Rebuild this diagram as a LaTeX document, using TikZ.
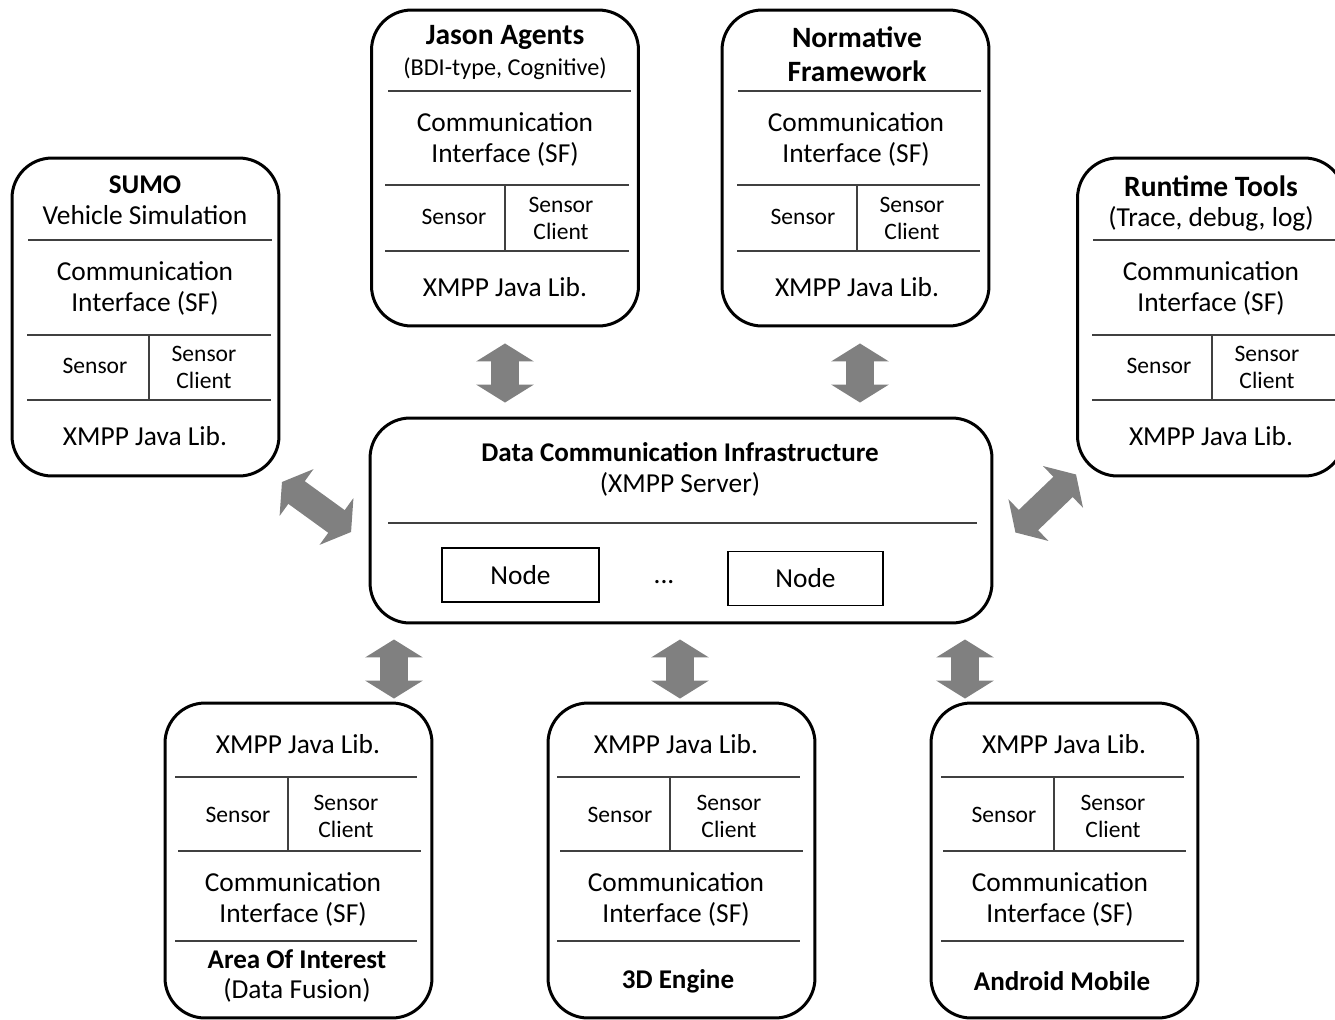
\documentclass[tikz,border=0pt]{standalone}
\usepackage{fontspec}
\setmainfont{Carlito}
\usetikzlibrary{arrows.meta}

\begin{document}
\begin{tikzpicture}[x=0.02cm,y=-0.02cm,
  module/.style={draw,line width=0.06cm,rounded corners=0.8cm,minimum width=5.34cm},
  part/.style={draw=black!75,line width=0.04cm},
  txt/.style={inner sep=0pt,align=center,font=\fontsize{15.6}{17.6}\selectfont},
  sml/.style={inner sep=0pt,align=center,font=\fontsize{13.4}{15.4}\selectfont},
  ttl/.style={inner sep=0pt,align=center,font=\bfseries\fontsize{15.4}{17.6}\selectfont},
  bigttl/.style={inner sep=0pt,align=center,font=\bfseries\fontsize{16.8}{19}\selectfont},
  nodebox/.style={draw,line width=0.035cm,minimum height=1.08cm,font=\fontsize{15.6}{17.6}\selectfont},
  link/.style={draw=gray,line width=0.56cm,{Triangle[width=1.14cm,length=0.36cm]}-{Triangle[width=1.14cm,length=0.36cm]}}]
\useasboundingbox (0,0) rectangle (1335,1019);

% outer boxes
\node[module,minimum height=6.36cm] (sumo) at (145.5,317) {};
\node[module,minimum height=6.32cm] (jason) at (505,168) {};
\node[module,minimum height=6.32cm] (norm) at (855.5,168) {};
\node[module,minimum height=6.36cm] (rt) at (1211,317) {};
\node[module,minimum width=12.44cm,minimum height=4.1cm] (dci) at (681,520.5) {};
\node[module,minimum height=6.3cm] (aoi) at (298.5,860.5) {};
\node[module,minimum height=6.3cm] (eng) at (681.5,860.5) {};
\node[module,minimum height=6.3cm] (andr) at (1064.5,860.5) {};

% SUMO
\node[ttl] (sumot) at (145,185) {SUMO};
\node[txt] (sumos) at (145,215) {Vehicle Simulation};
\draw[part] (28,240) -- (272,240);
\node[txt] (sumoc) at (145,288) {Communication\\Interface (SF)};
\draw[part] (27,335) -- (271,335);
\draw[part] (149,335) -- (149,400);
\draw[part] (27,400) -- (271,400);
\node[sml] (sumosn) at (95,366) {Sensor};
\node[sml] (sumocl) at (204,367) {Sensor\\Client};
\node[txt] (sumox) at (145,436) {XMPP Java Lib.};

% Jason
\node[bigttl] (jasont) at (505,37) {Jason Agents};
\node[sml,font=\fontsize{13.8}{15.4}\selectfont] (jasons) at (505,69) {(BDI-type, Cognitive)};
\draw[part] (388,91) -- (631,91);
\node[txt] (jasonc) at (505,139) {Communication\\Interface (SF)};
\draw[part] (385,185) -- (629,185);
\draw[part] (505,185) -- (505,251);
\draw[part] (385,251) -- (629,251);
\node[sml] (jasonsn) at (454,217) {Sensor};
\node[sml] (jasoncl) at (561,218) {Sensor\\Client};
\node[txt] (jasonx) at (505,287) {XMPP Java Lib.};

% normative
\node[bigttl] (normt) at (857,54) {Normative\\[0.5pt]Framework};
\draw[part] (738,91) -- (981,91);
\node[txt] (normc) at (856,139) {Communication\\Interface (SF)};
\draw[part] (737,185) -- (980,185);
\draw[part] (857,185) -- (857,251);
\draw[part] (737,251) -- (980,251);
\node[sml] (normsn) at (803,217) {Sensor};
\node[sml] (normcl) at (912,218) {Sensor\\Client};
\node[txt] (normx) at (857,287) {XMPP Java Lib.};

% runtime tools
\node[bigttl] (rtt) at (1211,186) {Runtime Tools};
\node[txt] (rts) at (1211,219) {(Trace, debug, log)};
\draw[part] (1093,240) -- (1340,240);
\node[txt] (rtc) at (1211,288) {Communication\\Interface (SF)};
\draw[part] (1092,335) -- (1340,335);
\draw[part] (1212,335) -- (1212,400);
\draw[part] (1092,400) -- (1340,400);
\node[sml] (rtsn) at (1159,366) {Sensor};
\node[sml] (rtcl) at (1267,367) {Sensor\\Client};
\node[txt] (rtx) at (1211,436) {XMPP Java Lib.};

% server
\node[ttl] (dcit) at (680,452) {Data Communication Infrastructure};
\node[txt] (dcis) at (680,484) {(XMPP Server)};
\draw[part] (388,523) -- (977,523);
\node[nodebox,minimum width=3.14cm] (n1) at (520.5,575) {Node};
\node[txt,anchor=base] (dots) at (664,583) {...};
\node[nodebox,minimum width=3.1cm] (n2) at (805.5,578.5) {Node};

% area of interest
\node[txt] (aoix) at (298,744) {XMPP Java Lib.};
\draw[part] (175,777) -- (417,777);
\draw[part] (288,777) -- (288,851);
\draw[part] (178,851) -- (421,851);
\node[sml] (aoisn) at (238,815) {Sensor};
\node[sml] (aoicl) at (346,816) {Sensor\\Client};
\node[txt] (aoic) at (293,899) {Communication\\Interface (SF)};
\draw[part] (175,941) -- (417,941);
\node[ttl] (aoit) at (297,959) {Area Of Interest};
\node[txt] (aois) at (297,990) {(Data Fusion)};

% 3d engine
\node[txt] (engx) at (676,744) {XMPP Java Lib.};
\draw[part] (557,777) -- (800,777);
\draw[part] (670,777) -- (670,851);
\draw[part] (560,851) -- (803,851);
\node[sml] (engsn) at (620,815) {Sensor};
\node[sml] (engcl) at (729,816) {Sensor\\Client};
\node[txt] (engc) at (676,899) {Communication\\Interface (SF)};
\draw[part] (557,941) -- (800,941);
\node[ttl] (engt) at (678,981) {3D Engine};

% android
\node[txt] (andrx) at (1064,744) {XMPP Java Lib.};
\draw[part] (941,777) -- (1184,777);
\draw[part] (1054,777) -- (1054,851);
\draw[part] (943,851) -- (1186,851);
\node[sml] (andrsn) at (1004,815) {Sensor};
\node[sml] (andrcl) at (1113,816) {Sensor\\Client};
\node[txt] (andrc) at (1060,899) {Communication\\Interface (SF)};
\draw[part] (941,941) -- (1184,941);
\node[ttl] (andrt) at (1062,981) {Android Mobile};

% arrows
\draw[link,shorten <=0.32cm,shorten >=0.28cm] (jason.south) -- (jason.south |- dci.north);
\draw[link,shorten <=0.32cm,shorten >=0.28cm] ([xshift=0.09cm]norm.south) -- ([xshift=0.09cm]norm.south |- dci.north);
\draw[link] ([shift={(1.5,4.5)}]sumo.south east) -- ([shift={(-17.5,11.5)}]dci.west);
\draw[link] ([shift={(22,12)}]dci.east) -- ([shift={(0,-3)}]rt.south west);
\draw[link,shorten <=0.3cm,shorten >=0.06cm] ([xshift=1.91cm]aoi.north |- dci.south) -- ([xshift=1.91cm]aoi.north);
\draw[link,shorten <=0.3cm,shorten >=0.06cm] ([xshift=-0.03cm]eng.north |- dci.south) -- ([xshift=-0.03cm]eng.north);
\draw[link,shorten <=0.3cm,shorten >=0.06cm] ([xshift=-1.99cm]andr.north |- dci.south) -- ([xshift=-1.99cm]andr.north);
\end{tikzpicture}
\end{document}
